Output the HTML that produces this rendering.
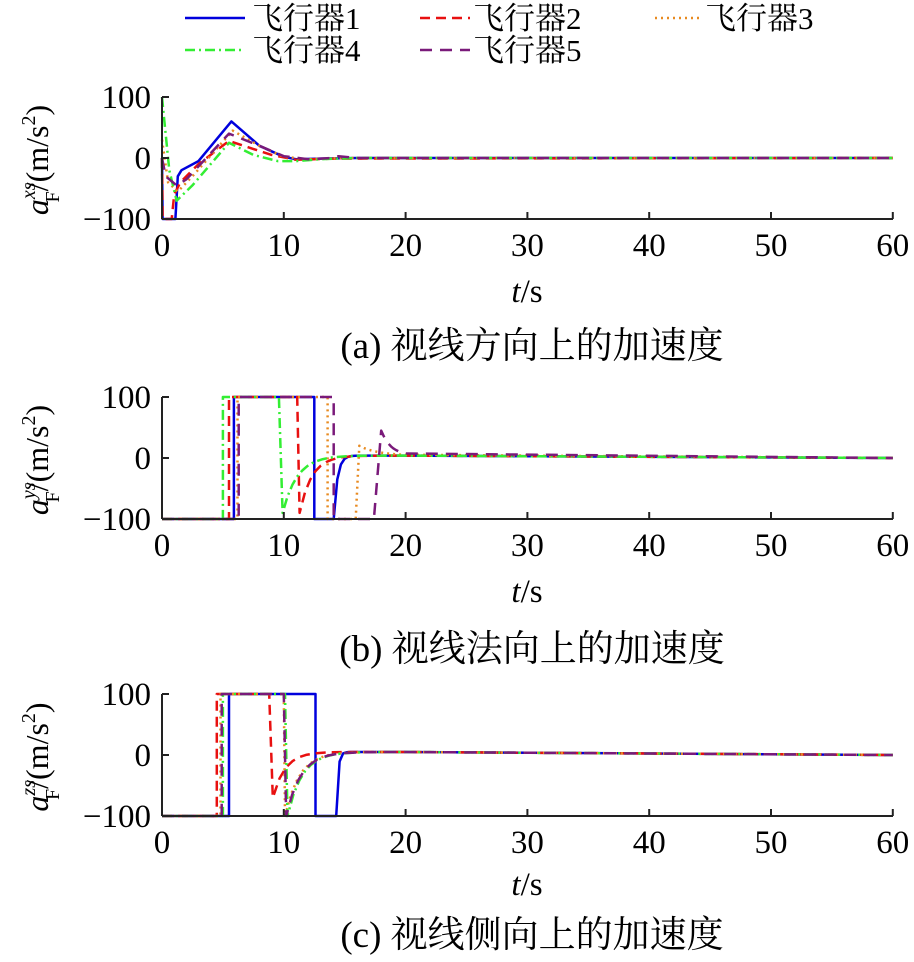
<!DOCTYPE html>
<html><head><meta charset="utf-8"><style>
body{margin:0;background:#fff}
text{font-family:"Liberation Serif","Noto Serif CJK SC",serif;fill:#000}
</style></head><body>
<svg id="s" width="914" height="957" xmlns="http://www.w3.org/2000/svg">
<g font-size="31">
<line x1="185" y1="18" x2="245" y2="18" stroke="#0000dd" stroke-width="2.5"/><text x="252" y="29">飞行器1</text>
<line x1="420" y1="18" x2="470" y2="18" stroke="#e81010" stroke-width="2.5" stroke-dasharray="10,6"/><text x="473" y="29">飞行器2</text>
<line x1="655" y1="18" x2="700" y2="18" stroke="#e88a20" stroke-width="2.5" stroke-dasharray="2,4"/><text x="705" y="29">飞行器3</text>
<line x1="185" y1="50" x2="245" y2="50" stroke="#33ee33" stroke-width="2.5" stroke-dasharray="10,4,2,4"/><text x="252" y="61">飞行器4</text>
<line x1="420" y1="50" x2="470" y2="50" stroke="#7a1a7a" stroke-width="2.5" stroke-dasharray="12,8"/><text x="473" y="61">飞行器5</text>
</g>
</svg>
<script>
const S=document.getElementById('s'),NS='http://www.w3.org/2000/svg';
function el(t,a,txt){const e=document.createElementNS(NS,t);for(const k in a)e.setAttribute(k,a[k]);if(txt!==undefined)e.textContent=txt;S.appendChild(e);return e;}
const X=t=>162+t*12.18;
const styles=[["#0000dd",""],["#e81010","10,6"],["#e88a20","2,4"],["#33ee33","10,4,2,4"],["#7a1a7a","12,8"]];
function exp(t0,v0,vinf,tau,t1,n){const r=[];for(let i=0;i<=n;i++){const t=t0+(t1-t0)*i/n;r.push([t,vinf+(v0-vinf)*Math.exp(-(t-t0)/tau)]);}return r;}
function panel(y0,sup,cap,tsY,capY,data){
 const Y=v=>y0-v*0.61;
 data.forEach((d,i)=>{const p=d.map(q=>X(q[0]).toFixed(1)+','+Y(q[1]).toFixed(1)).join(' ');
  const a={points:p,fill:'none',stroke:styles[i][0],'stroke-width':2.5,'stroke-linejoin':'round'};if(styles[i][1])a['stroke-dasharray']=styles[i][1];el('polyline',a);});
 el('line',{x1:162,y1:Y(100),x2:162,y2:Y(-100),stroke:'#222','stroke-width':2});
 el('line',{x1:162,y1:Y(-100),x2:893,y2:Y(-100),stroke:'#222','stroke-width':2});
 [100,0,-100].forEach(v=>{el('line',{x1:162,y1:Y(v),x2:169,y2:Y(v),stroke:'#222','stroke-width':2});
  el('text',{x:151,y:Y(v)+11,'text-anchor':'end','font-size':33},v<0?'−100':String(v));});
 for(let t=0;t<=60;t+=10){el('line',{x1:X(t),y1:Y(-100),x2:X(t),y2:Y(-100)-7,stroke:'#222','stroke-width':2});
  el('text',{x:X(t),y:Y(-100)+37,'text-anchor':'middle','font-size':33},String(t));}
 const tl=el('text',{x:527,y:tsY,'text-anchor':'middle','font-size':33});
 tl.innerHTML='<tspan font-style="italic">t</tspan>/s';
 el('text',{x:532,y:capY,'text-anchor':'middle','font-size':37},cap);
 const g=el('text',{transform:`translate(48,${y0+2}) rotate(-90)`,'text-anchor':'middle','font-size':32});
 g.innerHTML='<tspan font-style="italic">a</tspan><tspan font-size="20" dy="-13" font-style="italic">'+sup+'</tspan><tspan font-size="20" dx="-20" dy="24">F</tspan><tspan dy="-11">/(m/s</tspan><tspan font-size="20" dy="-13">2</tspan><tspan dy="13">)</tspan>';
}
panel(158,'xs','(a) 视线方向上的加速度',302,358,[
 [[0,0],[0.05,-100],[1.1,-100],[1.3,-30],[1.6,-20],[3,-5],[5.7,60],[8,20],[10,2],[11,-2],[13,-1],[16,0],[60,0]],
 [[0,0],[0.05,-100],[0.8,-100],[1,-60],[1.5,-40],[3,-10],[5.5,28],[7,18],[9,5],[11,-3],[14,-1],[60,0]],
 [[0,30],[0.5,-40],[1.3,-55],[2.5,-30],[5.8,45],[8,20],[10,2],[12,-2],[15,0],[60,0]],
 [[0,100],[0.2,60],[0.6,-20],[1.2,-70],[2.5,-45],[5.5,25],[7.5,5],[9.5,-5],[11,-5],[13,-2],[16,0],[60,0]],
 [[0,0],[0.3,-30],[1.2,-45],[2,-35],[5.5,40],[8,20],[10,3],[12,-2],[14,0],[14.5,3],[16,0],[60,0]]
]);
panel(458,'ys','(b) 视线法向上的加速度',602,661,[
 [[0,-100],[5.9,-100],[5.9,100],[12.5,100],[12.5,-100],[14.1,-100]].concat(exp(14.1,-100,4,0.3,20,20),[[60,0]]),
 [[0,-100],[5.5,-100],[5.5,100],[11.1,100],[11.3,-90]].concat(exp(11.3,-90,4,1,20,20),[[60,0]]),
 [[0,-100],[6.2,-100],[6.2,100],[13.6,100],[13.6,-100],[15.9,-100],[16.2,20]].concat(exp(16.2,20,4,1.5,20,10),[[60,0]]),
 [[0,-100],[5.0,-100],[5.0,100],[9.6,100],[9.9,-90]].concat(exp(9.9,-90,4,1.2,20,25),[[60,0]]),
 [[0,-100],[6.3,-100],[6.3,100],[14.1,100],[14.1,-100],[17.4,-100],[18,45]].concat(exp(18,45,4,0.8,20,10),[[60,0]])
]);
panel(755,'zs','(c) 视线侧向上的加速度',895,947,[
 [[0,-100],[5.5,-100],[5.5,100],[12.6,100],[12.6,-100],[14.3,-100]].concat(exp(14.3,-100,5,0.15,20,20),[[60,0]]),
 [[0,-100],[4.5,-100],[4.5,100],[8.8,100],[9.1,-70]].concat(exp(9.1,-70,5,1,20,20),[[60,0]]),
 [[0,-100],[4.8,-100],[4.8,100],[10.0,100],[10.1,-100]].concat(exp(10.1,-100,5,1.2,20,20),[[60,0]]),
 [[0,-100],[5.0,-100],[5.0,100],[10.1,100],[10.3,-100]].concat(exp(10.3,-100,5,1.2,20,20),[[60,0]]),
 [[0,-100],[4.9,-100],[4.9,100],[10.0,100],[10.2,-100]].concat(exp(10.2,-100,5,1.2,20,20),[[60,0]])
]);
</script>
</body></html>
